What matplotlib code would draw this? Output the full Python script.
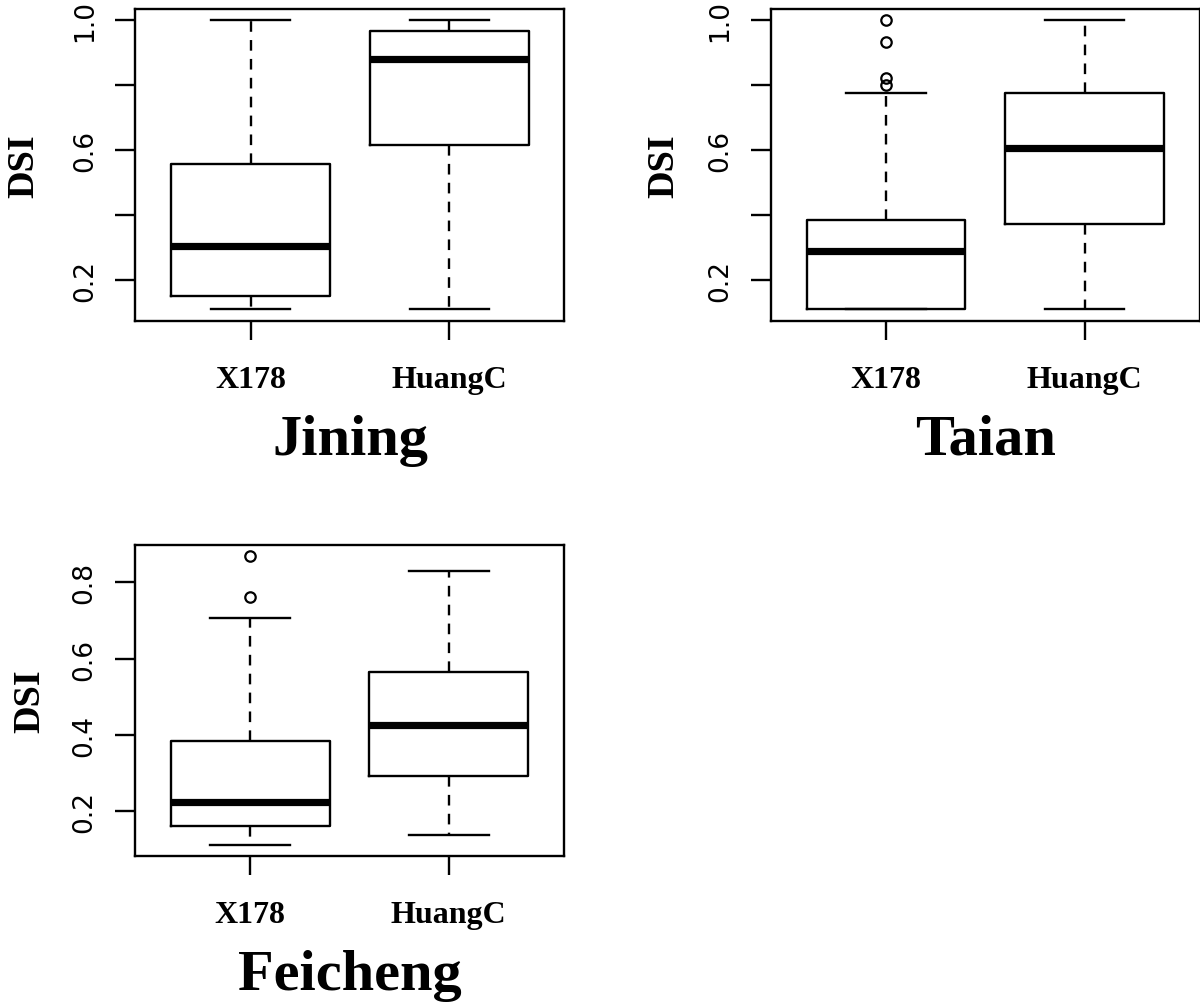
import matplotlib
matplotlib.use("Agg")
import matplotlib.pyplot as plt

# DSI boxplots per site, two cultivars
groups = ["X178", "HuangC"]
sites = ["Jining", "Taian", "Feicheng"]

# five-number summaries: whislo, q1, med, q3, whishi
jining_x178 = [0.110, 0.152, 0.304, 0.557, 1.000]
jining_huangc = [0.110, 0.615, 0.881, 0.968, 1.000]
taian_x178 = [0.110, 0.110, 0.289, 0.385, 0.776]
taian_huangc = [0.110, 0.372, 0.608, 0.776, 1.000]
feicheng_x178 = [0.112, 0.162, 0.225, 0.383, 0.705]
feicheng_huangc = [0.138, 0.293, 0.427, 0.565, 0.830]

# outliers
jining_x178_out = []
jining_huangc_out = []
taian_x178_out = [1.000, 0.933, 0.823, 0.802]
taian_huangc_out = []
feicheng_x178_out = [0.868, 0.760]
feicheng_huangc_out = []

# y ticks and which of them R actually labelled
ticks_top = [0.2, 0.4, 0.6, 0.8, 1.0]
labels_top = ["0.2", "", "0.6", "", "1.0"]
ticks_bottom = [0.2, 0.4, 0.6, 0.8]
labels_bottom = ["0.2", "0.4", "0.6", "0.8"]

SERIF = "Liberation Serif"
LW = 1.7


def make_stats(summary, fliers, label):
    lo, q1, med, q3, hi = summary
    return dict(label=label, whislo=lo, q1=q1, med=med, q3=q3, whishi=hi,
                fliers=fliers)


def draw_panel(ax, stats, ticks, ticklabels, title, ylab_x):
    ax.bxp(stats, positions=[1, 2], widths=0.8, capwidths=0.4,
           showfliers=True,
           boxprops=dict(color="black", linewidth=LW),
           medianprops=dict(color="black", linewidth=5.2, solid_capstyle="butt"),
           whiskerprops=dict(color="black", linewidth=LW, linestyle=(0, (4.5, 3.5))),
           capprops=dict(color="black", linewidth=LW),
           flierprops=dict(marker="o", markerfacecolor="none",
                           markeredgecolor="black", markersize=7.5,
                           markeredgewidth=1.6, linestyle="none"))

    # R style axis ranges: 4% padding around the data
    vals = []
    for s in stats:
        vals += [s["whislo"], s["whishi"]] + list(s["fliers"])
    lo, hi = min(vals), max(vals)
    pad = 0.04 * (hi - lo)
    ax.set_ylim(lo - pad, hi + pad)
    ax.set_xlim(0.42, 2.58)

    ax.set_yticks(ticks)
    ax.set_yticklabels(ticklabels, rotation=90, va="center",
                       fontfamily="DejaVu Sans", fontsize=19)
    ax.set_xticks([1, 2])
    ax.set_xticklabels(groups, fontfamily=SERIF, fontweight="bold", fontsize=23)
    ax.tick_params(axis="y", length=14.4, width=LW, pad=12.5)
    ax.tick_params(axis="x", length=14.0, width=LW, pad=17.5)
    for sp in ax.spines.values():
        sp.set_linewidth(LW)

    ax.text(ylab_x, 0.5, "DSI", transform=ax.transAxes, rotation=90,
            ha="center", va="center", fontfamily=SERIF, fontweight="bold",
            fontsize=27.5)
    ax.text(0.5, -0.426, title, transform=ax.transAxes, ha="center",
            va="baseline", fontfamily=SERIF, fontweight="bold", fontsize=42)


fig = plt.figure(figsize=(12, 10.04), dpi=100)
ax1 = fig.add_axes([0.1129, 0.6793, 0.3575, 0.3108])
ax2 = fig.add_axes([0.6423, 0.6793, 0.3575, 0.3108])
ax3 = fig.add_axes([0.1125, 0.1461, 0.3575, 0.3104])

draw_panel(ax1,
           [make_stats(jining_x178, jining_x178_out, groups[0]),
            make_stats(jining_huangc, jining_huangc_out, groups[1])],
           ticks_top, labels_top, sites[0], -0.26)
draw_panel(ax2,
           [make_stats(taian_x178, taian_x178_out, groups[0]),
            make_stats(taian_huangc, taian_huangc_out, groups[1])],
           ticks_top, labels_top, sites[1], -0.25)
draw_panel(ax3,
           [make_stats(feicheng_x178, feicheng_x178_out, groups[0]),
            make_stats(feicheng_huangc, feicheng_huangc_out, groups[1])],
           ticks_bottom, labels_bottom, sites[2], -0.245)

fig.savefig("out.png", dpi=100, facecolor="white")
